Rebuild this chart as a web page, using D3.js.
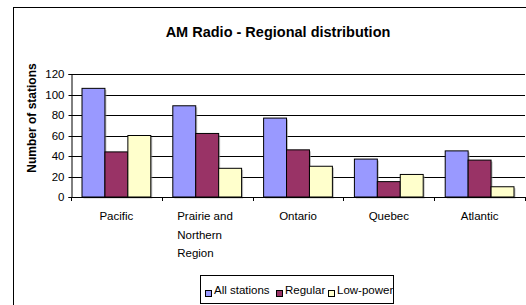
<!DOCTYPE html>
<html><head><meta charset="utf-8">
<script src="https://cdn.jsdelivr.net/npm/d3@7"></script>
<style>body{margin:0;background:#fff}svg{display:block;font-family:"Liberation Sans",Arial,sans-serif}</style>
</head><body>
<script>
const categories = ["Pacific", "Prairie and Northern Region", "Ontario", "Quebec", "Atlantic"];
const categoryLines = [["Pacific"], ["Prairie and", "Northern", "Region"], ["Ontario"], ["Quebec"], ["Atlantic"]];
const seriesNames = ["All stations", "Regular", "Low-power"];
const allStations = [106, 89, 77, 37, 45];
const regular = [44, 62, 46, 15, 36];
const lowPower = [60, 28, 30, 22, 10];
const yTicks = [0, 20, 40, 60, 80, 100, 120];
const colors = ["#9999FF", "#993366", "#FFFFCC"];
const seriesValues = [allStations, regular, lowPower];

(function () {
const W = 526, H = 305;
const svg = d3.select("body").append("svg").attr("width", W).attr("height", H);

// outer frame
svg.append("rect").attr("x", 13.5).attr("y", 7.5).attr("width", 600).attr("height", 400)
  .attr("fill", "none").attr("stroke", "#000").attr("stroke-width", 1);

const pLeft = 71, pRight = 525, pTop = 74, pBottom = 197;
const y = d3.scaleLinear().domain([0, 120]).range([pBottom, pTop]);
const x0 = d3.scaleBand().domain(categories).range([pLeft, pRight]).padding(0);
const x1 = d3.scaleBand().domain(seriesNames).range([0, x0.bandwidth()]).paddingInner(0).paddingOuter(0.48);

// gridlines
svg.append("g").selectAll("line").data(yTicks.filter(d => d > 0)).join("line")
  .attr("x1", pLeft).attr("x2", pRight)
  .attr("y1", d => Math.round(y(d)) + 0.5).attr("y2", d => Math.round(y(d)) + 0.5)
  .attr("stroke", "#000").attr("stroke-width", 1);

// title
svg.append("text").attr("x", 278).attr("y", 37).attr("text-anchor", "middle")
  .attr("font-size", 14.5).attr("font-weight", "bold").text("AM Radio - Regional distribution");

// y axis
const yAxis = svg.append("g").attr("transform", `translate(${pLeft + 0.5},0)`)
  .call(d3.axisLeft(y).tickValues(yTicks).tickSize(3).tickPadding(4));
yAxis.select(".domain").attr("stroke", "#000");
yAxis.selectAll("text").attr("font-size", 11.5).attr("font-family", "Liberation Sans, Arial, sans-serif").attr("fill", "#000");
yAxis.selectAll(".tick line").attr("stroke", "#000");
yAxis.selectAll(".tick").attr("transform", d => `translate(0,${Math.round(y(d)) + 0.5})`);

// y title
svg.append("text").attr("transform", "translate(36,118) rotate(-90)").attr("text-anchor", "middle")
  .attr("font-size", 12).attr("font-weight", "bold").text("Number of stations");

// bars
const groups = svg.append("g").selectAll("g").data(categories).join("g")
  .attr("transform", d => `translate(${x0(d)},0)`);
groups.each(function(cat, ci) {
  const g = d3.select(this);
  seriesNames.forEach((s, si) => {
    const v = seriesValues[si][ci];
    g.append("rect").attr("x", x1(s) + 1.5).attr("y", y(v) + 1.5)
      .attr("width", x1.bandwidth()).attr("height", pBottom - y(v))
      .attr("fill", "#9a9a9a").attr("opacity", 0.6);
  });
  seriesNames.forEach((s, si) => {
    const v = seriesValues[si][ci];
    g.append("rect").attr("x", x1(s)).attr("y", y(v))
      .attr("width", x1.bandwidth()).attr("height", pBottom - y(v))
      .attr("fill", colors[si]).attr("stroke", "#000").attr("stroke-width", 1);
  });
});

// x axis
svg.append("line").attr("x1", pLeft).attr("x2", pRight).attr("y1", pBottom + 0.5).attr("y2", pBottom + 0.5).attr("stroke", "#000");
const bounds = categories.map(c => x0(c)).concat([pRight]);
svg.append("g").selectAll("line").data(bounds).join("line")
  .attr("x1", d => Math.round(d) + 0.5).attr("x2", d => Math.round(d) + 0.5)
  .attr("y1", pBottom).attr("y2", pBottom + 4).attr("stroke", "#000");

// category labels
categories.forEach((c, i) => {
  const lines = categoryLines[i];
  const cx = x0(c) + x0.bandwidth() / 2;
  const t = svg.append("text").attr("font-size", 11.5).attr("fill", "#000");
  if (lines.length === 1) {
    t.attr("x", cx).attr("y", 220).attr("text-anchor", "middle").text(lines[0]);
  } else {
    lines.forEach((l, li) => {
      t.append("tspan").attr("x", cx - 30).attr("y", 220 + li * 18.5).text(l);
    });
  }
});

// legend
const leg = svg.append("g");
leg.append("rect").attr("x", 200.5).attr("y", 275.5).attr("width", 193).attr("height", 28)
  .attr("fill", "#fff").attr("stroke", "#000");
const legX = [205, 276, 328];
seriesNames.forEach((s, i) => {
  leg.append("rect").attr("x", legX[i] + 0.5).attr("y", 290.5).attr("width", 6).attr("height", 6)
    .attr("fill", colors[i]).attr("stroke", "#000");
  leg.append("text").attr("x", legX[i] + 9).attr("y", 294).attr("font-size", 11.5).text(s);
});
})();
</script>
</body></html>
